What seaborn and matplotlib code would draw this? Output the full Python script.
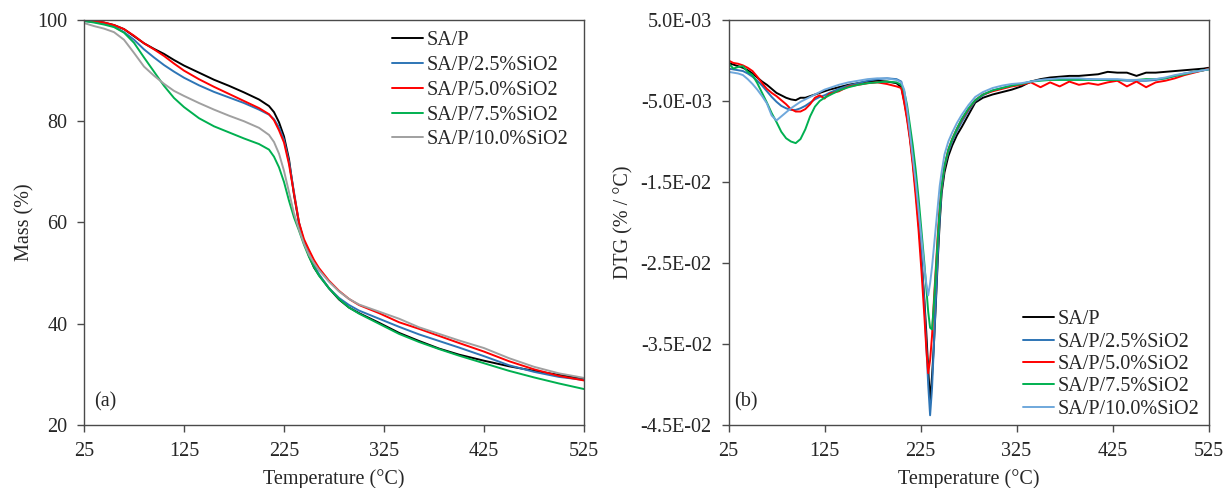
import matplotlib
matplotlib.use("Agg")
import pandas as pd
import matplotlib.pyplot as plt
import seaborn as sns
from matplotlib.ticker import FuncFormatter

# ---- data ----
LABELS_A = ["SA/P", "SA/P/2.5%SiO2", "SA/P/5.0%SiO2", "SA/P/7.5%SiO2", "SA/P/10.0%SiO2"]
COLORS_A = ["#000000", "#2E75B6", "#FF0000", "#00B050", "#A0A0A0"]
COLORS_B = ["#000000", "#2E75B6", "#FF0000", "#00B050", "#6FA8DC"]

# (a) mass loss, %
TGA_T = [25, 35, 45, 55, 65, 75, 85, 95, 105, 115, 125, 140, 155, 170, 185, 200, 210, 215, 220,
         225, 230, 235, 240, 245, 250, 255, 260, 270, 280, 290, 300, 320, 340, 360, 380, 400,
         425, 450, 475, 500, 525]
mass_sap = [100.0, 99.8, 99.5, 99.0, 98.2, 96.8, 95.4, 94.3, 93.3, 92.1, 91.0, 89.6, 88.2, 87.0,
            85.7, 84.3, 83.0, 81.8, 79.8, 77.0, 72.5, 65.5, 59.8, 56.2, 53.4, 51.1, 49.6, 47.0,
            44.8, 43.2, 42.1, 40.2, 38.2, 36.6, 35.1, 33.9, 32.7, 31.6, 30.7, 29.9, 29.1]
mass_25 = [99.8, 99.6, 99.3, 98.7, 97.6, 96.1, 94.2, 92.6, 91.1, 89.8, 88.6, 87.1, 85.8, 84.7,
           83.6, 82.3, 81.3, 80.4, 78.8, 76.3, 72.0, 66.0, 60.0, 56.0, 53.7, 51.6, 49.8, 47.0,
           45.1, 43.7, 42.6, 41.0, 39.4, 37.9, 36.6, 35.3, 33.6, 31.8, 30.5, 29.5, 28.9]
mass_50 = [100.0, 99.8, 99.5, 99.0, 98.2, 96.9, 95.4, 94.2, 92.9, 91.4, 90.0, 88.3, 86.8, 85.4,
           84.0, 82.6, 81.4, 80.2, 78.2, 75.8, 71.5, 65.7, 60.0, 56.7, 54.6, 52.6, 51.0, 48.5,
           46.5, 44.9, 43.7, 42.1, 40.3, 39.0, 37.6, 36.2, 34.5, 32.6, 31.0, 29.7, 28.8]
mass_75 = [99.8, 99.5, 99.1, 98.6, 97.5, 95.5, 92.6, 89.8, 87.0, 84.6, 82.8, 80.6, 79.0, 77.8,
           76.6, 75.5, 74.4, 73.0, 70.9, 68.0, 64.3, 61.0, 58.4, 55.6, 53.2, 51.2, 49.5, 47.0,
           44.9, 43.2, 42.0, 40.0, 38.0, 36.4, 35.0, 33.7, 32.2, 30.7, 29.4, 28.2, 27.1]
mass_100 = [99.4, 98.8, 98.3, 97.6, 96.1, 93.5, 90.8, 89.0, 87.4, 86.0, 85.0, 83.6, 82.3, 81.1,
            80.0, 78.7, 77.3, 75.9, 73.6, 70.2, 66.0, 61.8, 58.6, 55.8, 53.6, 52.0, 50.6, 48.3,
            46.4, 44.9, 43.8, 42.4, 41.0, 39.3, 38.0, 36.7, 35.2, 33.2, 31.5, 30.2, 29.3]

# (b) derivative, in units of 1E-03 %/°C
DTG_T = [25, 30, 35, 40, 45, 50, 55, 60, 65, 70, 75, 80, 85, 90, 95, 100, 105, 110, 115, 120,
         125, 130, 140, 150, 160, 170, 180, 190, 200, 205, 208, 211, 214, 217, 220, 223, 226,
         229, 231, 233, 235, 237, 239, 241, 243, 245, 247, 250, 254, 258, 263, 268, 275, 282,
         290, 300, 310, 320, 330, 340, 350, 360, 370, 380, 390, 400, 410, 420, 430, 440, 450,
         460, 470, 480, 490, 500, 510, 520, 525]
dtg_sap = [-0.3, -0.5, -0.7, -0.9, -1.2, -1.6, -2.1, -2.6, -3.0, -3.5, -4.0, -4.3, -4.6, -4.8,
           -4.9, -4.6, -4.6, -4.4, -4.2, -4.0, -3.8, -3.6,
           -3.3, -3.0, -2.8, -2.6, -2.5, -2.6, -2.8,
           -3.3, -5.0, -7.0, -9.5, -12.5, -16.0, -20.0, -24.5, -29.5, -33.5, -38.0, -42.1, -39.0,
           -35.0, -30.0, -24.6, -20.0, -16.4, -13.8, -11.8, -10.5, -9.2, -8.2, -6.7, -5.2, -4.6,
           -4.2, -3.9, -3.6, -3.2, -2.6, -2.3, -2.1, -2.0, -1.9, -1.9, -1.8, -1.7, -1.4, -1.5,
           -1.5, -1.9, -1.5, -1.5, -1.4, -1.3, -1.2, -1.1, -1.0, -0.9]
dtg_25 = [-1.0, -1.1, -1.2, -1.3, -1.6, -2.0, -2.5, -3.1, -3.8, -4.5, -5.1, -5.6, -5.9, -6.1,
          -6.1, -5.9, -5.6, -5.2, -4.8, -4.5, -4.3, -4.0,
          -3.5, -3.1, -2.8, -2.5, -2.3, -2.2, -2.3,
          -2.6, -4.5, -6.8, -9.2, -12.2, -15.8, -19.8, -24.5, -30.0, -35.0, -40.0, -43.8, -40.5,
          -35.0, -29.5, -24.0, -19.5, -16.0, -13.2, -11.3, -10.0, -8.7, -7.6, -6.2, -5.0, -4.3,
          -3.7, -3.4, -3.1, -2.9, -2.6, -2.4, -2.3, -2.3, -2.3, -2.3, -2.3, -2.4, -2.4, -2.4,
          -2.5, -2.5, -2.5, -2.4, -2.2, -1.9, -1.6, -1.4, -1.2, -1.1]
dtg_50 = [0.0, -0.3, -0.4, -0.6, -0.9, -1.3, -2.0, -2.8, -3.5, -4.0, -4.4, -4.9, -5.4, -6.0,
          -6.3, -6.3, -6.0, -5.4, -4.6, -4.3, -4.7, -4.1,
          -3.8, -3.2, -3.0, -2.8, -2.7, -2.9, -3.2,
          -3.4, -5.2, -7.3, -9.8, -13.0, -16.8, -21.0, -26.0, -31.5, -35.5, -38.6, -37.0, -34.0,
          -29.5, -25.5, -21.5, -18.0, -15.5, -13.0, -11.0, -9.7, -8.4, -7.3, -6.0, -4.9, -4.2,
          -3.8, -3.5, -3.2, -3.0, -2.7, -3.3, -2.7, -3.2, -2.6, -3.0, -2.8, -3.0, -2.7, -2.5,
          -3.2, -2.6, -3.3, -2.7, -2.5, -2.2, -1.8, -1.5, -1.2, -1.0]
dtg_75 = [-0.3, -1.0, -0.8, -0.7, -1.4, -1.8, -2.8, -4.0, -5.2, -6.5, -7.6, -8.8, -9.6, -10.0,
          -10.2, -9.7, -8.5, -6.9, -5.7, -5.0, -4.6, -4.3,
          -3.7, -3.3, -3.0, -2.8, -2.7, -2.6, -2.7,
          -3.0, -3.8, -5.5, -8.0, -10.5, -13.5, -17.0, -21.0, -25.0, -28.0, -31.0, -33.0, -33.2,
          -30.0, -26.0, -22.0, -18.5, -15.5, -13.0, -11.0, -9.7, -8.4, -7.2, -5.9, -4.9, -4.2,
          -3.7, -3.4, -3.1, -2.9, -2.6, -2.5, -2.4, -2.4, -2.4, -2.4, -2.4, -2.4, -2.4, -2.4,
          -2.4, -2.4, -2.3, -2.3, -2.2, -1.9, -1.7, -1.4, -1.2, -1.1]
dtg_100 = [-1.4, -1.5, -1.6, -1.8, -2.3, -2.9, -3.6, -4.4, -5.3, -6.8, -7.4, -6.9, -6.4, -5.9,
           -5.5, -5.1, -4.8, -4.5, -4.2, -3.9, -3.6, -3.4,
           -3.0, -2.7, -2.5, -2.3, -2.2, -2.2, -2.4,
           -2.7, -3.6, -6.0, -9.0, -12.0, -15.0, -18.5, -22.0, -25.5, -27.5, -29.0, -27.5, -25.5,
           -23.0, -20.5, -18.0, -15.5, -13.8, -11.6, -10.0, -8.9, -7.7, -6.7, -5.5, -4.5, -3.9,
           -3.4, -3.1, -2.9, -2.8, -2.6, -2.4, -2.3, -2.2, -2.2, -2.2, -2.3, -2.3, -2.3, -2.3,
           -2.4, -2.4, -2.4, -2.3, -2.1, -1.8, -1.6, -1.4, -1.2, -1.1]

# ---- style ----
sns.set_style("ticks")
plt.rcParams["font.family"] = ["Liberation Serif", "DejaVu Serif"]
FS = 14.5
AXCOL = "#4A4A4A"


def long_form(t, series, labels, scale=1.0):
    df = pd.DataFrame({"T": t})
    for lab, vals in zip(labels, series):
        df[lab] = [v * scale for v in vals]
    return df.melt(id_vars="T", var_name="sample", value_name="y")


def style_axis(ax):
    for s in ax.spines.values():
        s.set_color(AXCOL)
        s.set_linewidth(1.0)
    ax.tick_params(direction="out", length=5, width=1.0, color=AXCOL,
                   labelsize=FS, pad=7, top=False, right=False)
    ax.set_xlim(25, 525)
    ax.set_xticks([25, 125, 225, 325, 425, 525])
    ax.set_xlabel("Temperature (°C)", fontsize=FS, labelpad=6)


def add_legend(ax, anchor, spacing):
    handles, labels = ax.get_legend_handles_labels()
    ax.legend(handles, labels, loc="upper left", bbox_to_anchor=anchor, frameon=False,
              fontsize=FS, handlelength=1.55, handletextpad=0.15, labelspacing=spacing,
              borderpad=0, borderaxespad=0)


fig = plt.figure(figsize=(12.27, 4.88), dpi=100)
ax1 = fig.add_axes([84 / 1227, 63 / 488, 500 / 1227, 405 / 488])
ax2 = fig.add_axes([728.5 / 1227, 63 / 488, 480 / 1227, 405 / 488])

# (a) TGA
tga = long_form(TGA_T, [mass_sap, mass_25, mass_50, mass_75, mass_100], LABELS_A)
sns.lineplot(data=tga, x="T", y="y", hue="sample", hue_order=LABELS_A,
             palette=dict(zip(LABELS_A, COLORS_A)), estimator=None, linewidth=1.4, ax=ax1)
style_axis(ax1)
ax1.set_ylim(20, 100)
ax1.set_yticks([20, 40, 60, 80, 100])
ax1.set_ylabel("Mass (%)", fontsize=FS, labelpad=2)
add_legend(ax1, (0.616, 0.972), 0.28)
ax1.text(0.02, 0.057, "(a)", transform=ax1.transAxes, fontsize=FS, va="center", ha="left")

# (b) DTG
dtg = long_form(DTG_T, [dtg_sap, dtg_25, dtg_50, dtg_75, dtg_100], LABELS_A, scale=1e-3)
sns.lineplot(data=dtg, x="T", y="y", hue="sample", hue_order=LABELS_A,
             palette=dict(zip(LABELS_A, COLORS_B)), estimator=None, linewidth=1.4, ax=ax2)
style_axis(ax2)
ax2.set_ylim(-0.045, 0.005)
ax2.set_yticks([0.005, -0.005, -0.015, -0.025, -0.035, -0.045])
ax2.yaxis.set_major_formatter(FuncFormatter(lambda v, p: "{:.1E}".format(v)))
ax2.set_ylabel("DTG (% / °C)", fontsize=FS, labelpad=5)
add_legend(ax2, (0.614, 0.283), 0.16)
ax2.text(0.012, 0.057, "(b)", transform=ax2.transAxes, fontsize=FS, va="center", ha="left")

fig.savefig("out.png", dpi=100)
